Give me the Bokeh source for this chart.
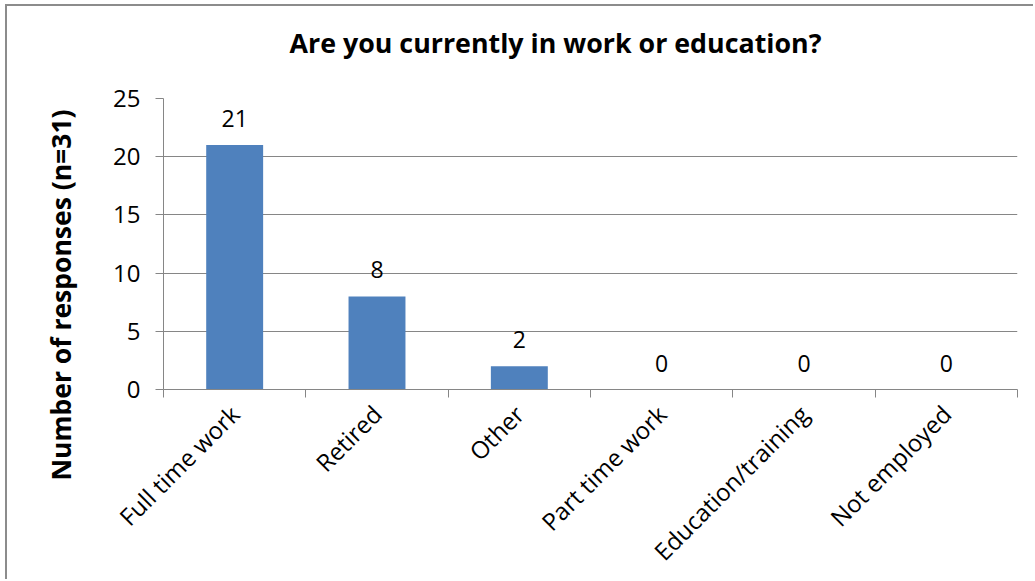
from math import pi
from bokeh.plotting import figure
from bokeh.models import ColumnDataSource, FixedTicker, LabelSet, Range1d, Title
from bokeh.core.properties import value
from bokeh.embed import file_html
from bokeh.resources import INLINE

categories = ["Full time work", "Retired", "Other", "Part time work", "Education/training", "Not employed"]
responses = [21, 8, 2, 0, 0, 0]
y_ticks = [0, 5, 10, 15, 20, 25]
title_text = "Are you currently in work or education?"
y_label_text = "Number of responses (n=31)"

xpos = [i + 0.5 for i in range(len(categories))]
boundaries = list(range(len(categories) + 1))

source = ColumnDataSource(dict(x=xpos, top=responses,
                               label=[str(v) for v in responses], cat=categories))

FONT = "Open Sans"
GRAY = "#868686"
BAR = "#4F81BD"

p = figure(width=1028, height=575, output_backend="svg", toolbar_location=None,
           title=None,
           x_range=Range1d(0, len(categories)), y_range=Range1d(0, 25),
           min_border_left=156, min_border_right=18, min_border_top=92,
           min_border_bottom=192)
p.styles = {"margin-left": "5px", "margin-top": "4px",
            "border-left": "2px solid #8c8c8c", "border-top": "2px solid #8c8c8c"}
p.outline_line_color = None
p.background_fill_color = "white"
p.border_fill_color = "white"

# spacer (innermost above panel) then the real title
spacer = Title(text=" ", text_font=FONT, text_font_size="26px", standoff=0)
p.add_layout(spacer, "above")
title = Title(text=title_text, align="left", offset=126, standoff=0,
              text_font=FONT, text_font_size="26.8px", text_font_style="bold",
              text_color="black")
p.add_layout(title, "above")

p.vbar(x="x", top="top", width=0.4, source=source, fill_color=BAR, line_color=None)

labels = LabelSet(x="x", y="top", text="label", source=source, text_align="center",
                  text_baseline="bottom", y_offset=18, text_font=value(FONT),
                  text_font_size=value("23px"), text_color="black")
p.add_layout(labels)

p.yaxis.ticker = FixedTicker(ticks=y_ticks)
p.yaxis.axis_line_color = GRAY
p.yaxis.major_tick_line_color = GRAY
p.yaxis.major_tick_out = 8
p.yaxis.major_tick_in = 0
p.yaxis.minor_tick_line_color = None
p.yaxis.major_label_standoff = 15
p.yaxis.major_label_text_font = FONT
p.yaxis.major_label_text_font_size = "24px"
p.yaxis.major_label_text_color = "black"

p.xaxis.ticker = FixedTicker(ticks=xpos, minor_ticks=boundaries)
p.xaxis.major_label_overrides = dict(zip(xpos, categories))
p.xaxis.major_label_orientation = pi / 4
p.xaxis.axis_line_color = GRAY
p.xaxis.major_tick_out = 0
p.xaxis.major_tick_in = 0
p.xaxis.minor_tick_out = 8
p.xaxis.minor_tick_in = 0
p.xaxis.minor_tick_line_color = GRAY
p.xaxis.major_label_standoff = 12
p.xaxis.major_label_text_font = FONT
p.xaxis.major_label_text_font_size = "24px"
p.xaxis.major_label_text_color = "black"

p.xgrid.visible = False
p.ygrid.grid_line_color = GRAY

ytitle = Title(text=y_label_text, align="left", offset=-91, standoff=63,
               vertical_align="bottom", text_font=FONT, text_font_size="26.5px",
               text_font_style="bold", text_color="black")
p.add_layout(ytitle, "left")

open("out.html", "w").write(file_html(p, INLINE))
